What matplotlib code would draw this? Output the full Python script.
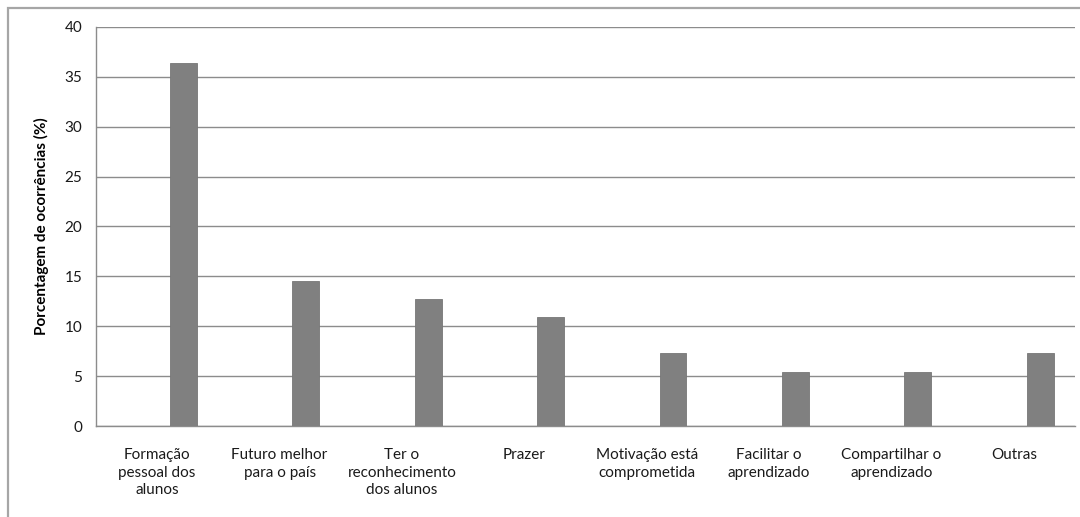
import matplotlib
matplotlib.use("Agg")
import matplotlib.pyplot as plt
from matplotlib.patches import Rectangle

categories = [
    "Formação\npessoal dos\nalunos",
    "Futuro melhor\npara o país",
    "Ter o\nreconhecimento\ndos alunos",
    "Prazer",
    "Motivação está\ncomprometida",
    "Facilitar o\naprendizado",
    "Compartilhar o\naprendizado",
    "Outras",
]
values = [36.36, 14.55, 12.73, 10.91, 7.27, 5.45, 5.45, 7.27]
y_ticks = [0, 5, 10, 15, 20, 25, 30, 35, 40]
y_label = "Porcentagem de ocorrências (%)"

plt.rcParams["font.family"] = ["Lato", "DejaVu Sans"]

W, H = 1080, 517
fig = plt.figure(figsize=(W / 100, H / 100), dpi=100)
fig.patch.set_facecolor("white")

# outer chart frame
fig.patches.append(Rectangle((8 / W, -0.1), 1.2, (H - 8) / H + 0.1,
                             transform=fig.transFigure, fill=False,
                             edgecolor="#a6a6a6", linewidth=1.6))

ax = fig.add_axes([96 / W, (H - 426) / H, (1075 - 96) / W, (426 - 27) / H])
x = list(range(len(categories)))
bar_x = [i + 0.215 for i in x]
ax.bar(bar_x, values, width=0.22, color="#808080", edgecolor="#777777",
       linewidth=0.6, zorder=3)

ax.set_xlim(-0.5, len(categories) - 0.5)
ax.set_ylim(0, 40)
ax.set_yticks(y_ticks)
ax.set_yticklabels([str(t) for t in y_ticks], fontsize=11, color="#1a1a1a")
ax.set_xticks(x)
ax.set_xticklabels(categories, fontsize=11, color="#1a1a1a", linespacing=1.3)
ax.tick_params(axis="both", length=0)
ax.tick_params(axis="y", pad=10)
ax.tick_params(axis="x", pad=16)

ax.yaxis.grid(True, color="#8c8c8c", linewidth=1.0, zorder=0)
ax.set_axisbelow(True)
for side in ["top", "right"]:
    ax.spines[side].set_visible(False)
ax.spines["left"].set_color("#8c8c8c")
ax.spines["bottom"].set_color("#8c8c8c")
ax.spines["left"].set_linewidth(1.0)
ax.spines["bottom"].set_linewidth(1.0)

ax.set_ylabel(y_label, fontsize=11, fontweight="bold", labelpad=11)

fig.savefig("out.png", dpi=100, facecolor="white")
